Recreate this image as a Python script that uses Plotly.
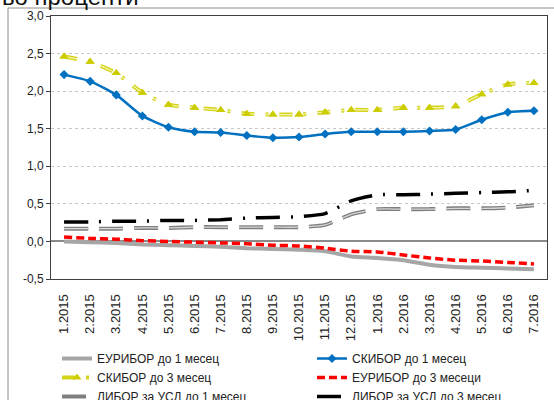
import plotly.graph_objects as go

# Monthly average interest rates, in percent
months = ["1.2015", "2.2015", "3.2015", "4.2015", "5.2015", "6.2015", "7.2015",
          "8.2015", "9.2015", "10.2015", "11.2015", "12.2015", "1.2016", "2.2016",
          "3.2016", "4.2016", "5.2016", "6.2016", "7.2016"]

euribor_1m = [0.00, -0.01, -0.02, -0.04, -0.05, -0.06, -0.07, -0.09, -0.10, -0.11,
              -0.13, -0.20, -0.22, -0.25, -0.31, -0.34, -0.35, -0.36, -0.37]
skibor_1m = [2.22, 2.13, 1.95, 1.67, 1.52, 1.46, 1.45, 1.41, 1.38, 1.39,
             1.43, 1.46, 1.46, 1.46, 1.47, 1.49, 1.62, 1.72, 1.74]
skibor_3m = [2.46, 2.39, 2.24, 1.98, 1.82, 1.78, 1.75, 1.70, 1.69, 1.69,
             1.72, 1.75, 1.75, 1.78, 1.78, 1.80, 1.96, 2.09, 2.11]
euribor_3m = [0.06, 0.04, 0.03, 0.01, 0.00, -0.01, -0.02, -0.03, -0.05, -0.06,
              -0.09, -0.13, -0.14, -0.18, -0.22, -0.25, -0.26, -0.28, -0.30]
libor_1m = [0.17, 0.17, 0.17, 0.18, 0.18, 0.19, 0.19, 0.19, 0.19, 0.19,
            0.22, 0.36, 0.43, 0.43, 0.43, 0.44, 0.44, 0.45, 0.48]
libor_3m = [0.26, 0.26, 0.27, 0.27, 0.28, 0.28, 0.29, 0.31, 0.32, 0.33,
            0.37, 0.54, 0.62, 0.62, 0.63, 0.64, 0.65, 0.66, 0.68]

y_tick_values = [-0.5, 0.0, 0.5, 1.0, 1.5, 2.0, 2.5, 3.0]
y_tick_labels = ["-0,5", "0,0", "0,5", "1,0", "1,5", "2,0", "2,5", "3,0"]

FONT = "Liberation Sans"
SMOOTH = 0.6
YELLOW_DASH = "13px,11px,3px,11px"
GREY_DASH = "24px,11px"

fig = go.Figure()

# ЕУРИБОР до 1 месец – thick grey solid line (left legend column)
fig.add_trace(go.Scatter(
    x=months, y=euribor_1m, name="ЕУРИБОР до 1 месец", mode="lines",
    legend="legend", legendrank=1,
    line=dict(color="#a6a6a6", width=4, shape="spline", smoothing=SMOOTH)))

# ЕУРИБОР до 3 месеци – red short dashes (right legend column)
fig.add_trace(go.Scatter(
    x=months, y=euribor_3m, name="ЕУРИБОР до 3 месеци", mode="lines",
    legend="legend2", legendrank=2,
    line=dict(color="#ff0000", width=3.5, dash="8px,4px",
              shape="spline", smoothing=SMOOTH)))

# ЛИБОР за УСД до 1 месец – double grey long dashes
fig.add_trace(go.Scatter(
    x=months, y=libor_1m, name="ЛИБОР за УСД до 1 месец", mode="lines",
    legend="legend", legendrank=3,
    line=dict(color="#7f7f7f", width=4, dash=GREY_DASH,
              shape="spline", smoothing=SMOOTH)))
fig.add_trace(go.Scatter(
    x=months, y=libor_1m, mode="lines", showlegend=False, hoverinfo="skip",
    line=dict(color="#d6d6d6", width=1.3, dash=GREY_DASH,
              shape="spline", smoothing=SMOOTH)))

# ЛИБОР за УСД до 3 месец – black dash-dot
fig.add_trace(go.Scatter(
    x=months, y=libor_3m, name="ЛИБОР за УСД до 3 месец", mode="lines",
    legend="legend2", legendrank=3,
    line=dict(color="#000000", width=3.5, dash="24px,11px,2px,11px",
              shape="spline", smoothing=SMOOTH)))

# СКИБОР до 1 месец – blue line with diamonds
fig.add_trace(go.Scatter(
    x=months, y=skibor_1m, name="СКИБОР до 1 месец", mode="lines+markers",
    legend="legend2", legendrank=1,
    line=dict(color="#0070c0", width=2.5, shape="spline", smoothing=SMOOTH),
    marker=dict(symbol="diamond", size=7, color="#0070c0")))

# СКИБОР до 3 месец – double yellow dash-dot line with triangles
fig.add_trace(go.Scatter(
    x=months, y=skibor_3m, name="СКИБОР до 3 месец", mode="lines+markers",
    legend="legend", legendrank=2,
    line=dict(color="#d4d41c", width=4, dash=YELLOW_DASH,
              shape="spline", smoothing=SMOOTH),
    marker=dict(symbol="triangle-up", size=8, color="#cccc00")))
fig.add_trace(go.Scatter(
    x=months, y=skibor_3m, mode="lines", showlegend=False, hoverinfo="skip",
    line=dict(color="#f4f4a8", width=1.3, dash=YELLOW_DASH,
              shape="spline", smoothing=SMOOTH)))
fig.add_trace(go.Scatter(
    x=months, y=skibor_3m, mode="markers", showlegend=False, hoverinfo="skip",
    marker=dict(symbol="triangle-up", size=8, color="#cccc00")))

W, H = 554, 400
L, R, T, B = 51, 7, 16, 121
plot_w, plot_h = W - L - R, H - T - B


def px_x(p):
    return (p - L) / plot_w


def px_y(p):
    return (H - B - p) / plot_h


ymin, ymax = -0.5, 3.0

legend_style = dict(
    orientation="v", xanchor="left", yanchor="top", y=px_y(344),
    font=dict(family=FONT, size=12, color="#222222"),
    bgcolor="rgba(0,0,0,0)", borderwidth=0, tracegroupgap=0,
    traceorder="normal",
)

fig.update_layout(
    width=W, height=H,
    margin=dict(l=L, r=R, t=T, b=B, pad=0, autoexpand=False),
    paper_bgcolor="white", plot_bgcolor="white",
    font=dict(family=FONT, size=12, color="#222222"),
    showlegend=True,
    legend=dict(legend_style, x=px_x(57)),
    legend2=dict(legend_style, x=px_x(312)),
    xaxis=dict(
        type="category", range=[-0.5, len(months) - 0.5],
        showline=True, linecolor="#404040", linewidth=1, mirror=True,
        showgrid=False, zeroline=False,
        ticks="", tickangle=-90, ticklabelstandoff=9,
        tickfont=dict(family=FONT, size=13, color="#222222"),
    ),
    yaxis=dict(
        range=[ymin, ymax], tickvals=y_tick_values, ticktext=y_tick_labels,
        showline=True, linecolor="#404040", linewidth=1, mirror=True,
        ticks="outside", ticklen=4, tickcolor="#404040",
        showgrid=True, gridcolor="#c8c8c8", gridwidth=1, griddash="dot",
        zeroline=True, zerolinecolor="#8a8a8a", zerolinewidth=1.5,
        tickfont=dict(family=FONT, size=12, color="#222222"),
    ),
    # category separators hanging from the zero line
    xaxis2=dict(
        overlaying="x", anchor="free", side="bottom",
        position=(0 - ymin) / (ymax - ymin),
        range=[-0.5, len(months) - 0.5],
        tickvals=[i + 0.5 for i in range(-1, len(months))],
        ticks="outside", ticklen=5, tickcolor="#404040", tickwidth=1,
        showticklabels=False, showline=False, showgrid=False, zeroline=False,
    ),
)

# outer chart frame
fig.add_shape(type="rect", xref="paper", yref="paper",
              x0=px_x(8), x1=px_x(W + 5), y0=px_y(H + 5), y1=px_y(8),
              line=dict(color="#8c8c8c", width=1), fillcolor="rgba(0,0,0,0)",
              layer="below")

fig.add_annotation(text="во проценти", xref="paper", yref="paper",
                   x=px_x(0), y=px_y(12), xanchor="left", yanchor="bottom",
                   showarrow=False, font=dict(family=FONT, size=24, color="#111111"))

fig.write_html("out.html")
